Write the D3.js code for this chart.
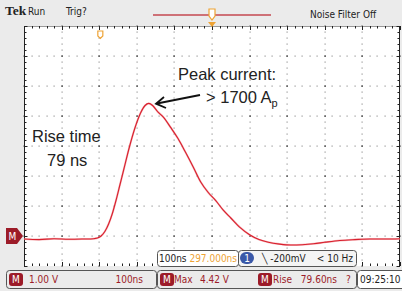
<!DOCTYPE html>
<html>
<head>
<meta charset="utf-8">
<script src="https://cdn.jsdelivr.net/npm/d3@7"></script>
<style>
  body { margin: 0; background: #fff; }
  svg { display: block; }
  .nar { font-family: "Liberation Sans Narrow", "DejaVu Sans Condensed", sans-serif; font-size: 10px; }
  .ann { font-family: "Liberation Sans", Arial, sans-serif; font-size: 16.5px; fill: #222; }
</style>
</head>
<body>
<svg id="chart" width="402" height="291"></svg>
<script>
// trace (time in ns from left edge, volts)
var timeNs = [0, 40, 80, 120, 160, 185, 195, 205, 215, 225, 235, 245, 255, 265, 280, 295, 310, 322, 332, 342, 355, 370, 390, 410, 430, 450, 470, 490, 510, 530, 550, 575, 600, 625, 650, 680, 710, 740, 770, 800, 840, 880, 920, 960, 1000];
var volts  = [-0.1, -0.12, -0.09, -0.11, -0.1, -0.09, -0.07, 0.0, 0.15, 0.4, 0.75, 1.2, 1.7, 2.2, 2.95, 3.6, 4.1, 4.35, 4.42, 4.35, 4.15, 3.97, 3.62, 3.24, 2.78, 2.3, 1.8, 1.45, 1.18, 0.86, 0.6, 0.28, 0.04, -0.12, -0.21, -0.27, -0.3, -0.29, -0.26, -0.21, -0.15, -0.12, -0.1, -0.1, -0.09];

var xDivs = 10, yDivs = 8;
var timePerDiv = 100, voltPerDiv = 1;

var topLabels = ["Run", "Trig?", "Noise Filter Off"];
var readout = { scale: "1.00 V", time: "100ns", max: "4.42 V", rise: "79.60ns", clock: "09:25:10",
                hpos: "297.000ns", trig: "\u2572 -200mV", freq: "< 10 Hz" };

var svg = d3.select('#chart');
var bg = '#ebebeb', red = '#9c1b28', orange = '#eea335';

var pLeft = 24, pRight = 400, pTop = 26, pBottom = 266;
var x = d3.scaleLinear().domain([0, xDivs * timePerDiv]).range([pLeft, pRight]);
var y = d3.scaleLinear().domain([-1, 7]).range([pBottom, pTop]);

svg.append('rect').attr('width', 402).attr('height', 291).attr('fill', bg);
svg.append('rect').attr('x', pLeft).attr('y', pTop).attr('width', pRight - pLeft).attr('height', pBottom - pTop).attr('fill', '#fff');

// dotted graticule
var g = svg.append('g');
d3.range(1, xDivs).forEach(function(i) {
  d3.range(0, yDivs * 5 + 1).forEach(function(k) {
    g.append('rect').attr('x', Math.round(x(i * timePerDiv)) - 0.5).attr('y', Math.round(y(-1 + k / 5)) - 0.5)
      .attr('width', 1.2).attr('height', 1.2).attr('fill', k % 5 == 0 ? '#333' : '#999');
  });
});
d3.range(1, yDivs).forEach(function(j) {
  d3.range(0, xDivs * 5 + 1).forEach(function(k) {
    g.append('rect').attr('x', Math.round(x(k * timePerDiv / 5)) - 0.5).attr('y', Math.round(y(-1 + j)) - 0.5)
      .attr('width', 1.2).attr('height', 1.2).attr('fill', k % 5 == 0 ? '#333' : '#999');
  });
});

// frame rulers
var fr = svg.append('g').attr('stroke', '#222').attr('stroke-width', 1);
fr.append('line').attr('x1', pLeft + 0.5).attr('x2', pLeft + 0.5).attr('y1', pTop).attr('y2', pBottom);
fr.append('line').attr('x1', pRight - 0.5).attr('x2', pRight - 0.5).attr('y1', pTop).attr('y2', pBottom);
fr.append('line').attr('x1', pLeft).attr('x2', pRight).attr('y1', pTop + 0.5).attr('y2', pTop + 0.5).attr('stroke', '#999');
d3.range(0, xDivs * 5 + 1).forEach(function(k) {
  var xx = Math.round(x(k * timePerDiv / 5)) + 0.5, len = k % 5 == 0 ? 4 : 2.5;
  fr.append('line').attr('x1', xx).attr('x2', xx).attr('y1', pTop).attr('y2', pTop + len);
  fr.append('line').attr('x1', xx).attr('x2', xx).attr('y1', pBottom).attr('y2', pBottom - len);
});
d3.range(0, yDivs * 5 + 1).forEach(function(k) {
  var yy = Math.round(y(-1 + k / 5)) + 0.5, len = k % 5 == 0 ? 3.5 : 2.5;
  fr.append('line').attr('x1', pLeft).attr('x2', pLeft + len).attr('y1', yy).attr('y2', yy);
  fr.append('line').attr('x1', pRight).attr('x2', pRight - len).attr('y1', yy).attr('y2', yy);
});

// trace
var pts = timeNs.map(function(t, i) { return [t, volts[i]]; });
var line = d3.line().x(function(d) { return x(d[0]); }).y(function(d) { return y(d[1]); }).curve(d3.curveMonotoneX);
svg.append('path').datum(pts).attr('d', line).attr('fill', 'none').attr('stroke', '#f08a90').attr('stroke-width', 2).attr('opacity', 0.6);
svg.append('path').datum(pts).attr('d', line).attr('fill', 'none').attr('stroke', '#d8202e').attr('stroke-width', 1.1);

// header
svg.append('text').attr('x', 5).attr('y', 15).attr('font-family', 'Liberation Serif, serif').attr('font-weight', 'bold')
  .attr('font-size', 13.5).attr('fill', '#222').text('Tek');
svg.append('text').attr('class', 'nar').attr('x', 28).attr('y', 15).attr('fill', '#222').attr('font-size', 10.5).text(topLabels[0]);
svg.append('text').attr('class', 'nar').attr('x', 66).attr('y', 15).attr('fill', '#222').attr('font-size', 10.5).text(topLabels[1]);
svg.append('text').attr('class', 'nar').attr('x', 310).attr('y', 18).attr('fill', '#222').attr('font-size', 10.5).text(topLabels[2]);
svg.append('line').attr('x1', 153).attr('x2', 271).attr('y1', 15).attr('y2', 15).attr('stroke', '#c44850').attr('stroke-width', 1.5);
var tx = x(5 * timePerDiv);
svg.append('path').attr('d', 'M' + (tx - 3) + ',9 L' + (tx + 3) + ',9 L' + (tx + 3) + ',16 L' + tx + ',20 L' + (tx - 3) + ',16 Z')
  .attr('fill', '#fff').attr('stroke', orange).attr('stroke-width', 1.2);
svg.append('path').attr('d', 'M' + (tx - 4) + ',22 L' + (tx + 4) + ',22 L' + tx + ',27 Z').attr('fill', orange);
// horizontal position marker
var hx = x(203);
svg.append('path').attr('d', 'M' + (hx - 2.5) + ',31 L' + (hx + 2.5) + ',31 L' + (hx + 2.5) + ',36 L' + hx + ',38.5 L' + (hx - 2.5) + ',36 Z')
  .attr('fill', '#fff').attr('stroke', orange).attr('stroke-width', 1.2);

// ground marker
var gy = y(0);
svg.append('path').attr('d', 'M6,' + (gy - 8) + ' L17,' + (gy - 8) + ' L23,' + gy + ' L17,' + (gy + 8) + ' L6,' + (gy + 8) + ' Z').attr('fill', red);
svg.append('text').attr('class', 'nar').attr('x', 12.5).attr('y', gy + 4).attr('font-size', 11.5).attr('text-anchor', 'middle').attr('fill', '#fff').text('M');

// annotations
svg.append('text').attr('class', 'ann').attr('x', 178).attr('y', 80).text('Peak current:');
var t2 = svg.append('text').attr('class', 'ann').attr('x', 206).attr('y', 103);
t2.append('tspan').text('> 1700 A');
t2.append('tspan').attr('dy', 4).attr('font-size', 11).text('p');
svg.append('text').attr('class', 'ann').attr('x', 32).attr('y', 142).text('Rise time');
svg.append('text').attr('class', 'ann').attr('x', 47).attr('y', 166).text('79 ns');
svg.append('line').attr('x1', 200).attr('y1', 95).attr('x2', 157).attr('y2', 103.5).attr('stroke', '#111').attr('stroke-width', 1.8);
svg.append('path').attr('d', 'M164,97 L156,103.7 L166,108').attr('fill', 'none').attr('stroke', '#111').attr('stroke-width', 1.8);

// readout boxes
function box(x0, y0, w, h, fill) {
  svg.append('rect').attr('x', x0 + 0.5).attr('y', y0 + 0.5).attr('width', w).attr('height', h).attr('rx', 3)
    .attr('fill', fill).attr('stroke', '#555').attr('stroke-width', 1);
}
function badge(x0, yb, s, col) {
  svg.append('rect').attr('x', x0).attr('y', yb - 10).attr('width', 14).attr('height', 13).attr('rx', 3).attr('fill', col);
  svg.append('text').attr('class', 'nar').attr('x', x0 + 7).attr('y', yb).attr('text-anchor', 'middle').attr('fill', '#fff').text(s);
}
function txt(x0, yb, s, col, anchor) {
  return svg.append('text').attr('class', 'nar').attr('x', x0).attr('y', yb).attr('fill', col).attr('text-anchor', anchor || 'start').text(s);
}
box(157, 250, 81, 16, '#fff');
txt(159, 262, readout.time, '#222').attr('font-size', 9.5);
txt(237, 262, readout.hpos, orange, 'end').attr('font-size', 9.5);
box(238, 250, 118, 16, '#f4f4f4');
svg.append('rect').attr('x', 240).attr('y', 252).attr('width', 14).attr('height', 12).attr('rx', 6).attr('fill', '#3a58a8');
txt(247, 262, '1', '#fff', 'middle');
txt(262, 262, readout.trig, '#222');
txt(353, 262, readout.freq, '#222', 'end');

box(6, 270, 150, 18, bg);
badge(9, 283, 'M', red);
txt(29, 283, readout.scale, red);
txt(143, 283, readout.time, red, 'end');
box(157, 270, 199, 18, bg);
badge(160, 283, 'M', red);
txt(174, 283, 'Max', red);
txt(229, 283, readout.max, red, 'end');
badge(258, 283, 'M', red);
txt(273, 283, 'Rise', red);
txt(337, 283, readout.rise, red, 'end');
txt(346, 283, '?', red);
box(357, 270, 48, 18, '#fff');
txt(360, 283, readout.clock, '#222');
</script>
</body>
</html>
